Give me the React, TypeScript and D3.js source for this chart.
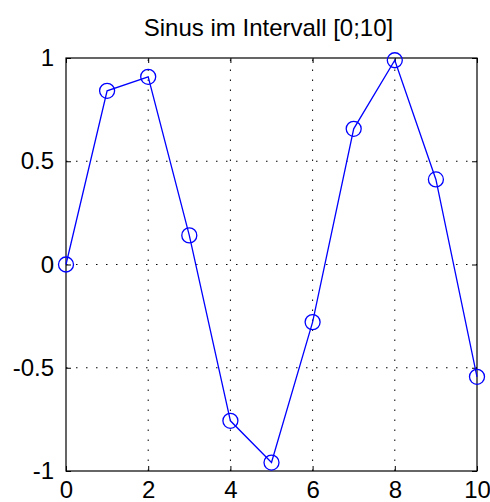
import * as d3 from 'd3';
import React, { useEffect, useRef } from 'react';

// sample points 0..10 and the values
const xs = [0, 1, 2, 3, 4, 5, 6, 7, 8, 9, 10];
const ys = [0, 0.841, 0.909, 0.141, -0.757, -0.959, -0.279, 0.657, 0.989, 0.412, -0.544];
const xTicks = [0, 2, 4, 6, 8, 10];
const yTicks = [-1, -0.5, 0, 0.5, 1];
const yTickLabels = ['-1', '-0.5', '0', '0.5', '1'];
const title = 'Sinus im Intervall [0;10]';

function App() {
	const chart = useRef<SVGSVGElement>(null);

	useEffect(() => {
		const W = 490;
		const H = 502;
		const margin = { top: 58, right: 13, bottom: 31, left: 66 };
		const font = 'Liberation Sans, Arial, sans-serif';

		const svg = d3.select(chart.current);
		svg.selectAll('*').remove();

		// Scales
		const xscale = d3.scaleLinear().domain([0, 10]).range([margin.left, W - margin.right]);
		const yscale = d3.scaleLinear().domain([-1, 1]).range([H - margin.bottom, margin.top]);

		const x0 = xscale(0), x1 = xscale(10), y0 = yscale(-1), y1 = yscale(1);

		svg.append('rect').attr('width', W).attr('height', H).attr('fill', '#fff');

		// Grid
		const grid = svg.append('g').attr('stroke', '#000').attr('stroke-dasharray', '1.5 8.5').attr('stroke-width', 1);
		grid.selectAll('.gx')
			.data(xTicks.slice(1, -1))
			.enter()
			.append('line')
			.attr('x1', (d) => xscale(d))
			.attr('x2', (d) => xscale(d))
			.attr('y1', y0)
			.attr('y2', y1);
		grid.selectAll('.gy')
			.data(yTicks.slice(1, -1))
			.enter()
			.append('line')
			.attr('y1', (d) => yscale(d))
			.attr('y2', (d) => yscale(d))
			.attr('x1', x0)
			.attr('x2', x1);

		// Axes (ticks pointing inward on all four sides)
		const axisStyle = (g: any) => {
			g.select('.domain').remove();
			g.selectAll('line').attr('stroke', '#000');
			g.selectAll('text').attr('font-family', font).attr('font-size', 24).attr('fill', '#000');
		};

		svg.append('g')
			.attr('transform', `translate(0, ${y0})`)
			.call(d3.axisBottom(xscale).tickValues(xTicks).tickSizeInner(-5).tickSizeOuter(0).tickPadding(10).tickFormat(d3.format('d')))
			.call(axisStyle);
		svg.append('g')
			.attr('transform', `translate(0, ${y1})`)
			.call(d3.axisTop(xscale).tickValues(xTicks).tickSizeInner(-5).tickSizeOuter(0).tickFormat(() => ''))
			.call(axisStyle);
		svg.append('g')
			.attr('transform', `translate(${x0}, 0)`)
			.call(d3.axisLeft(yscale).tickValues(yTicks).tickSizeInner(-5).tickSizeOuter(0).tickPadding(12).tickFormat((d, i) => yTickLabels[i]))
			.call(axisStyle);
		svg.append('g')
			.attr('transform', `translate(${x1}, 0)`)
			.call(d3.axisRight(yscale).tickValues(yTicks).tickSizeInner(-5).tickSizeOuter(0).tickFormat(() => ''))
			.call(axisStyle);

		// Box
		svg.append('rect')
			.attr('x', x0)
			.attr('y', y1)
			.attr('width', x1 - x0)
			.attr('height', y0 - y1)
			.attr('fill', 'none')
			.attr('stroke', '#000')
			.attr('stroke-width', 1.2);

		// Line + markers
		const line = d3.line<number>().x((d, i) => xscale(xs[i])).y((d) => yscale(d));
		svg.append('path')
			.attr('d', line(ys))
			.attr('fill', 'none')
			.attr('stroke', '#0000ff')
			.attr('stroke-width', 1.3);
		svg.selectAll('.pt')
			.data(ys)
			.enter()
			.append('circle')
			.attr('cx', (d, i) => xscale(xs[i]))
			.attr('cy', (d) => yscale(d))
			.attr('r', 7.5)
			.attr('fill', 'none')
			.attr('stroke', '#0000ff')
			.attr('stroke-width', 1.3);

		// Title
		svg.append('text')
			.attr('x', (x0 + x1) / 2 - 3)
			.attr('y', 36)
			.attr('text-anchor', 'middle')
			.attr('font-family', font)
			.attr('font-size', 24)
			.attr('fill', '#000')
			.text(title);
	}, []);

	return (
		<svg
			ref={chart}
			width={490}
			height={502}
			style={{ position: 'absolute', left: 0, top: 0, display: 'block' }}
		></svg>
	);
}

export default App;
